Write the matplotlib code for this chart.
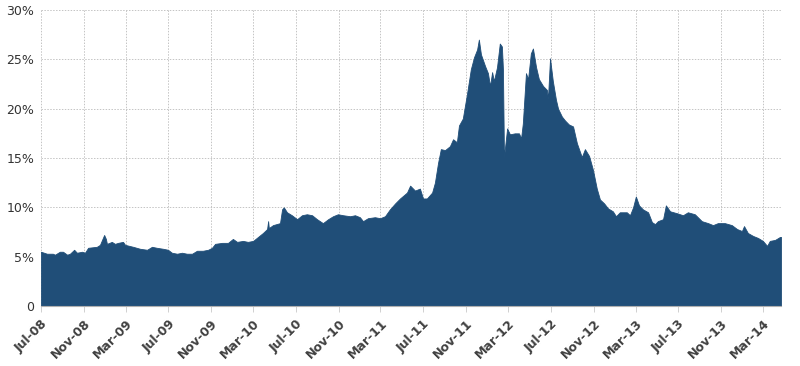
import numpy as np
import pandas as pd
import matplotlib
matplotlib.use("Agg")
import matplotlib.pyplot as plt
import matplotlib.dates as mdates
from matplotlib.ticker import FuncFormatter

# --- data (date, value in %) ---
dates = [
    "2008-07-01", "2008-07-18", "2008-08-04", "2008-08-10", "2008-08-24", "2008-09-02",
    "2008-09-14", "2008-09-22", "2008-10-04", "2008-10-12", "2008-10-27", "2008-11-04",
    "2008-11-13", "2008-12-08", "2008-12-17", "2008-12-29", "2009-01-03", "2009-01-06",
    "2009-01-20", "2009-01-29", "2009-02-07", "2009-02-21", "2009-02-27", "2009-03-22",
    "2009-04-11", "2009-05-01", "2009-05-15", "2009-05-29", "2009-06-16", "2009-06-30",
    "2009-07-11", "2009-07-26", "2009-08-09", "2009-08-23", "2009-09-07", "2009-09-21",
    "2009-10-08", "2009-10-23", "2009-11-03", "2009-11-12", "2009-12-02", "2009-12-19",
    "2010-01-02", "2010-01-14", "2010-01-31", "2010-02-14", "2010-03-01", "2010-03-15",
    "2010-03-29", "2010-04-10", "2010-04-13", "2010-04-15", "2010-04-27", "2010-05-17",
    "2010-05-23", "2010-05-28", "2010-06-06", "2010-06-20", "2010-07-05", "2010-07-19",
    "2010-08-02", "2010-08-17", "2010-08-31", "2010-09-17", "2010-10-02", "2010-10-16",
    "2010-10-30", "2010-11-14", "2010-12-04", "2010-12-18", "2011-01-01", "2011-01-10",
    "2011-01-24", "2011-02-13", "2011-02-28", "2011-03-14", "2011-03-28", "2011-04-12",
    "2011-04-26", "2011-05-16", "2011-05-25", "2011-06-08", "2011-06-22", "2011-07-01",
    "2011-07-12", "2011-07-27", "2011-08-04", "2011-08-13", "2011-08-21", "2011-09-02",
    "2011-09-16", "2011-09-25", "2011-10-06", "2011-10-12", "2011-10-23", "2011-11-04",
    "2011-11-15", "2011-11-24", "2011-12-03", "2011-12-08", "2011-12-14", "2011-12-26",
    "2012-01-03", "2012-01-09", "2012-01-15", "2012-01-20", "2012-01-29", "2012-02-06",
    "2012-02-12", "2012-02-15", "2012-02-18", "2012-02-27", "2012-03-06", "2012-03-20",
    "2012-04-01", "2012-04-07", "2012-04-12", "2012-04-21", "2012-04-27", "2012-05-05",
    "2012-05-11", "2012-05-20", "2012-05-28", "2012-06-09", "2012-06-20", "2012-06-23",
    "2012-06-29", "2012-07-07", "2012-07-16", "2012-07-22", "2012-08-02", "2012-08-11",
    "2012-08-22", "2012-09-03", "2012-09-14", "2012-09-28", "2012-10-07", "2012-10-19",
    "2012-10-30", "2012-11-10", "2012-11-19", "2012-12-01", "2012-12-12", "2012-12-26",
    "2013-01-04", "2013-01-15", "2013-02-04", "2013-02-13", "2013-02-22", "2013-03-02",
    "2013-03-11", "2013-03-22", "2013-04-06", "2013-04-17", "2013-04-26", "2013-05-04",
    "2013-05-19", "2013-05-27", "2013-06-08", "2013-06-28", "2013-07-15", "2013-07-29",
    "2013-08-18", "2013-09-07", "2013-09-25", "2013-10-09", "2013-10-23", "2013-11-12",
    "2013-12-02", "2013-12-17", "2013-12-31", "2014-01-06", "2014-01-17", "2014-02-01",
    "2014-02-15", "2014-03-01", "2014-03-13", "2014-03-21", "2014-04-05", "2014-04-19",
    "2014-04-22",
]
values = [
    5.5, 5.3, 5.3, 5.2, 5.5, 5.5,
    5.2, 5.3, 5.7, 5.4, 5.5, 5.4,
    5.9, 6.0, 6.2, 7.2, 6.8, 6.3,
    6.5, 6.3, 6.4, 6.5, 6.2, 6.0,
    5.8, 5.7, 6.0, 5.9, 5.8, 5.7,
    5.4, 5.3, 5.4, 5.3, 5.3, 5.6,
    5.6, 5.7, 5.9, 6.3, 6.4, 6.4,
    6.8, 6.5, 6.6, 6.5, 6.6, 7.0,
    7.4, 7.8, 8.6, 7.9, 8.2, 8.4,
    9.8, 10.0, 9.5, 9.2, 8.8, 9.2,
    9.3, 9.2, 8.8, 8.4, 8.8, 9.1,
    9.3, 9.2, 9.1, 9.2, 9.0, 8.6,
    8.9, 9.0, 8.9, 9.1, 9.8, 10.4,
    10.9, 11.5, 12.2, 11.7, 11.9, 10.9,
    10.9, 11.5, 12.5, 14.5, 15.9, 15.8,
    16.2, 16.9, 16.6, 18.3, 19.0, 21.5,
    24.0, 25.2, 26.0, 27.0, 25.5, 24.3,
    23.6, 22.3, 23.7, 22.8, 24.2, 26.6,
    26.3, 24.0, 15.1, 18.0, 17.4, 17.5,
    17.5, 17.0, 18.5, 23.6, 23.0, 25.6,
    26.1, 24.2, 23.0, 22.3, 21.9, 21.0,
    25.1, 22.8, 20.9, 20.0, 19.2, 18.8,
    18.4, 18.2, 16.5, 15.1, 15.9, 15.2,
    13.8, 11.9, 10.8, 10.4, 9.9, 9.6,
    9.1, 9.5, 9.5, 9.2, 10.0, 11.1,
    10.2, 9.8, 9.5, 8.5, 8.3, 8.6,
    8.8, 10.2, 9.6, 9.4, 9.2, 9.5,
    9.3, 8.6, 8.4, 8.2, 8.4, 8.4,
    8.2, 7.8, 7.6, 8.1, 7.4, 7.1,
    6.9, 6.6, 6.1, 6.6, 6.7, 7.0,
    7.0,
]

y_ticks = [0, 5, 10, 15, 20, 25, 30]
x_ticks = ["2008-07-01", "2008-11-01", "2009-03-01", "2009-07-01", "2009-11-01",
           "2010-03-01", "2010-07-01", "2010-11-01", "2011-03-01", "2011-07-01",
           "2011-11-01", "2012-03-01", "2012-07-01", "2012-11-01", "2013-03-01",
           "2013-07-01", "2013-11-01", "2014-03-01"]

d = pd.to_datetime(dates)
v = np.array(values)

fig = plt.figure(figsize=(8, 3.66), dpi=100)
ax = fig.add_axes([0.05125, 0.1639, 0.925, 0.8088])

ax.fill_between(d, 0, v, color="#204e78", linewidth=0.6, edgecolor="#204e78", zorder=2)

ax.set_xlim(d[0], d[-1])
ax.set_ylim(0, 30)

ax.set_yticks(y_ticks)
ax.yaxis.set_major_formatter(FuncFormatter(lambda y, p: "0" if y == 0 else "%d%%" % y))
ax.set_xticks(pd.to_datetime(x_ticks))
ax.xaxis.set_major_formatter(mdates.DateFormatter("%b-%y"))

ax.grid(True, color="#c4c4c4", linestyle=(0, (1.5, 1.5)), linewidth=0.7, zorder=0)
ax.set_axisbelow(True)

for s in ["top", "right", "left"]:
    ax.spines[s].set_visible(False)
ax.spines["bottom"].set_color("#b0b0b0")
ax.spines["bottom"].set_linewidth(0.8)

ax.tick_params(axis="y", length=0, labelsize=9, labelcolor="#333333", pad=5)
ax.tick_params(axis="x", length=4, width=0.7, color="#d0d0d0",
               labelsize=9, labelcolor="#404040", pad=4)
for lab in ax.get_xticklabels():
    lab.set_rotation(45)
    lab.set_ha("right")
    lab.set_rotation_mode("anchor")
    lab.set_fontweight("bold")

fig.savefig("out.png", dpi=100)
